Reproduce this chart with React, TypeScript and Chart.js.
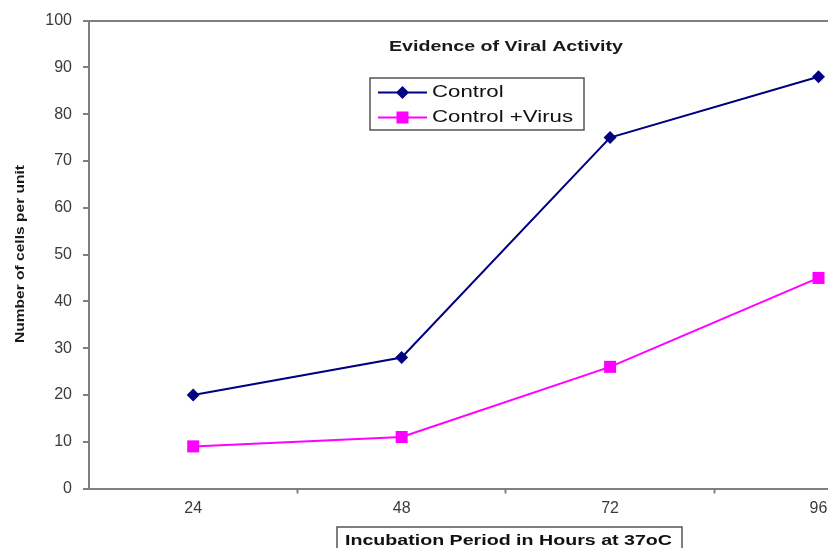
import React, { useEffect, useRef } from "react";
import { Chart, registerables } from "chart.js";

Chart.register(...registerables);

const hours = [24, 48, 72, 96];
const controlValues = [20, 28, 75, 88];
const virusValues = [9, 11, 26, 45];
const xTickValues = [24, 36, 48, 60, 72, 84, 96];
const xLabelValues = [24, 48, 72, 96];
const seriesNames = ["Control", "Control +Virus"];
const seriesColors = ["#000080", "#FF00FF"];
const chartTitle = "Evidence of Viral Activity";
const xTitle = "Incubation Period in Hours at 37oC";
const yTitle = "Number of cells per unit";

const FONT = "'Liberation Sans', Arial, sans-serif";
const AXIS_GREY = "#808080";
const CANVAS_W = 860;

function drawStretched(
  ctx: CanvasRenderingContext2D,
  text: string,
  x: number,
  y: number,
  font: string,
  width: number,
  color: string,
  align: CanvasTextAlign = "center",
  rotate = 0
) {
  ctx.save();
  ctx.font = font;
  const w = ctx.measureText(text).width;
  ctx.translate(x, y);
  if (rotate) ctx.rotate(rotate);
  ctx.scale(width / w, 1);
  ctx.fillStyle = color;
  ctx.textAlign = align;
  ctx.textBaseline = "middle";
  ctx.fillText(text, 0, 0);
  ctx.restore();
}

function drawMarker(ctx: CanvasRenderingContext2D, style: string, x: number, y: number, color: string) {
  ctx.save();
  ctx.fillStyle = color;
  ctx.beginPath();
  if (style === "rectRot") {
    const r = 6.5;
    ctx.moveTo(x, y - r);
    ctx.lineTo(x + r, y);
    ctx.lineTo(x, y + r);
    ctx.lineTo(x - r, y);
    ctx.closePath();
  } else {
    const s = 6;
    ctx.rect(x - s, y - s, 2 * s, 2 * s);
  }
  ctx.fill();
  ctx.restore();
}

const annotationsPlugin = {
  id: "annotations",
  afterDraw(chart: any) {
    const ctx: CanvasRenderingContext2D = chart.ctx;
    // Title
    drawStretched(ctx, chartTitle, 506, 47, `bold 14px ${FONT}`, 234, "#1a1a1a");

    // Legend box
    ctx.save();
    ctx.fillStyle = "#ffffff";
    ctx.fillRect(370, 78, 214, 52);
    ctx.strokeStyle = "#555555";
    ctx.lineWidth = 1.5;
    ctx.strokeRect(370, 78, 214, 52);
    ctx.restore();

    ctx.save();
    ctx.font = `17px ${FONT}`;
    const longest = ctx.measureText(seriesNames[1]).width;
    ctx.restore();
    const sx = 141 / longest;
    chart.data.datasets.forEach((ds: any, i: number) => {
      const y = 92.5 + i * 25;
      ctx.save();
      ctx.strokeStyle = ds.borderColor;
      ctx.lineWidth = 2;
      ctx.beginPath();
      ctx.moveTo(378, y);
      ctx.lineTo(427, y);
      ctx.stroke();
      ctx.restore();
      drawMarker(ctx, ds.pointStyle, 402.5, y, ds.backgroundColor);
      ctx.save();
      ctx.font = `17px ${FONT}`;
      const w = ctx.measureText(ds.label).width;
      ctx.restore();
      drawStretched(ctx, ds.label, 432, y, `17px ${FONT}`, w * sx, "#111111", "left");
    });

    // X axis title box
    ctx.save();
    ctx.fillStyle = "#ffffff";
    ctx.fillRect(337, 527, 345, 40);
    ctx.strokeStyle = "#555555";
    ctx.lineWidth = 1.5;
    ctx.strokeRect(337, 527, 345, 40);
    ctx.restore();
    drawStretched(ctx, xTitle, 508.5, 540.5, `bold 15px ${FONT}`, 327, "#111111");

    // Y axis title
    drawStretched(ctx, yTitle, 20, 254, `bold 13px ${FONT}`, 178, "#1a1a1a", "center", -Math.PI / 2);
  },
};

export default function App() {
  const canvasRef = useRef<HTMLCanvasElement | null>(null);

  useEffect(() => {
    if (!canvasRef.current) return;
    const chart = new Chart(canvasRef.current, {
      type: "line",
      data: {
        datasets: [
          {
            label: seriesNames[0],
            data: hours.map((h, i) => ({ x: h, y: controlValues[i] })),
            borderColor: seriesColors[0],
            backgroundColor: seriesColors[0],
            borderWidth: 2,
            pointStyle: "rectRot",
            pointRadius: 6.5,
            pointBorderWidth: 0,
            tension: 0,
            clip: false as any,
          },
          {
            label: seriesNames[1],
            data: hours.map((h, i) => ({ x: h, y: virusValues[i] })),
            borderColor: seriesColors[1],
            backgroundColor: seriesColors[1],
            borderWidth: 2,
            pointStyle: "rect",
            pointRadius: 8.5,
            pointBorderWidth: 0,
            tension: 0,
            clip: false as any,
          },
        ],
      },
      options: {
        animation: false,
        responsive: false,
        layout: { padding: { left: 0, top: 20.5, right: 0, bottom: 0 } },
        plugins: {
          legend: { display: false },
          title: { display: false },
          tooltip: { enabled: false },
        },
        scales: {
          x: {
            type: "linear",
            min: 12,
            max: 99.8,
            afterBuildTicks: (scale: any) => {
              scale.ticks = xTickValues.map((v) => ({ value: v }));
            },
            afterFit: (scale: any) => {
              scale.height = 59.5;
            },
            border: { color: AXIS_GREY, width: 2 },
            grid: {
              drawOnChartArea: false,
              drawTicks: true,
              tickLength: 5,
              tickWidth: 2,
              tickColor: (c: any) =>
                c.tick && xLabelValues.includes(c.tick.value) ? "rgba(0,0,0,0)" : AXIS_GREY,
            },
            ticks: {
              autoSkip: false,
              maxRotation: 0,
              padding: 5,
              color: "#3a3a3a",
              font: { family: FONT, size: 16 },
              callback: (v: any) => (xLabelValues.includes(Number(v)) ? String(v) : ""),
            },
          },
          y: {
            type: "linear",
            min: 0,
            max: 100,
            afterFit: (scale: any) => {
              scale.width = 89;
            },
            border: { color: AXIS_GREY, width: 2 },
            grid: {
              drawOnChartArea: true,
              drawTicks: true,
              tickLength: 6,
              lineWidth: 2,
              tickWidth: 2,
              color: (c: any) => (c.tick && c.tick.value === 100 ? AXIS_GREY : "rgba(0,0,0,0)"),
              tickColor: AXIS_GREY,
            },
            ticks: {
              stepSize: 10,
              padding: 11,
              color: "#3a3a3a",
              font: { family: FONT, size: 16 },
            },
          },
        },
      },
      plugins: [annotationsPlugin],
    });
    return () => chart.destroy();
  }, []);

  return (
    <div style={{ position: "absolute", left: 0, top: 0, width: 828, height: 548, overflow: "hidden", background: "#fff" }}>
      <canvas
        ref={canvasRef}
        width={CANVAS_W}
        height={548}
        style={{ display: "block", width: CANVAS_W, height: 548 }}
      />
    </div>
  );
}
